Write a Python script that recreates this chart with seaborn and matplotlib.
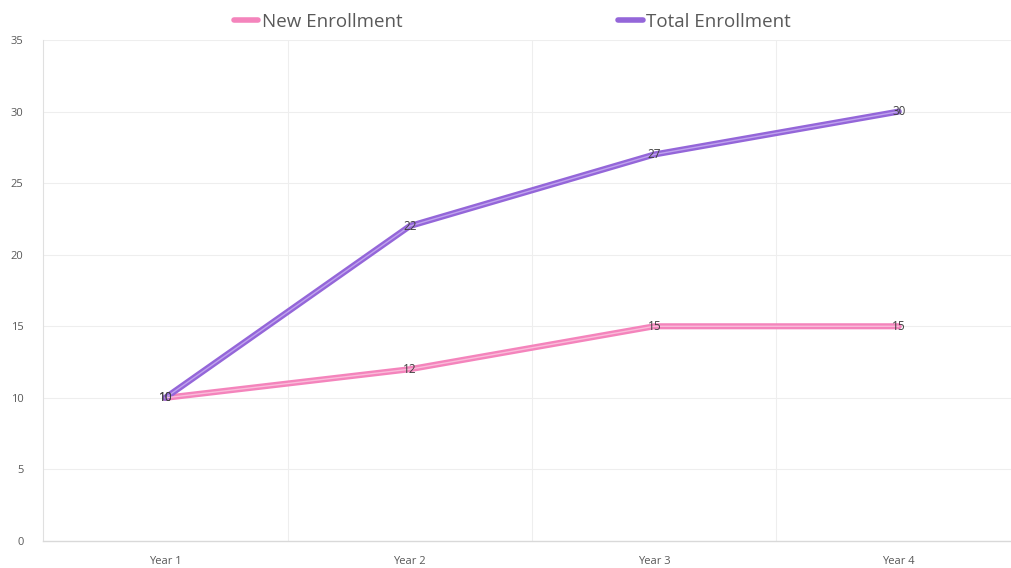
import matplotlib
matplotlib.use("Agg")
import matplotlib.pyplot as plt
import seaborn as sns
import pandas as pd
from matplotlib.lines import Line2D

years = ["Year 1", "Year 2", "Year 3", "Year 4"]
new_enrollment = [10, 12, 15, 15]
total_enrollment = [10, 22, 27, 30]
series_names = ["New Enrollment", "Total Enrollment"]
colors = {"New Enrollment": "#F484BC", "Total Enrollment": "#9466D9"}
inner = {"New Enrollment": "#FABCDA", "Total Enrollment": "#C0A3EE"}

df = pd.DataFrame({
    "Year": years * 2,
    "Value": new_enrollment + total_enrollment,
    "Series": [series_names[0]] * 4 + [series_names[1]] * 4,
})
df["x"] = df["Year"].map({y: i for i, y in enumerate(years)})

sns.set_theme(style="white")
plt.rcParams["font.family"] = ["Open Sans", "DejaVu Sans"]

fig = plt.figure(figsize=(10.11, 5.68), dpi=100)
ax = fig.add_axes([43 / 1011, 1 - 541 / 568, 1 - 43 / 1011, (541 - 40) / 568])

sns.lineplot(data=df, x="x", y="Value", hue="Series", palette=colors,
             linewidth=4.4, ax=ax, legend=False, zorder=3)
sns.lineplot(data=df, x="x", y="Value", hue="Series", palette=inner,
             linewidth=1.0, ax=ax, legend=False, zorder=4)

for vals in (new_enrollment, total_enrollment):
    for i, v in enumerate(vals):
        ax.text(i, v, str(v), ha="center", va="center", fontsize=8.5,
                color="#404040", zorder=5)

ax.set_xlim(-0.5, (1011 - 43) / 244.5 - 0.5)
ax.set_ylim(0, 35)
ax.set_yticks(range(0, 36, 5))
ax.set_xticks(range(len(years)))
ax.set_xticklabels(years)
ax.set_xlabel("")
ax.set_ylabel("")

ax.grid(False)
for y in range(5, 36, 5):
    ax.axhline(y, color="#EEEEEE", linewidth=0.8, zorder=0)
for xb in [0.5, 1.5, 2.5]:
    ax.axvline(xb, color="#EEEEEE", linewidth=0.8, zorder=0)

for s in ["top", "right"]:
    ax.spines[s].set_visible(False)
ax.spines["left"].set_color("#E0E0E0")
ax.spines["bottom"].set_color("#D9D9D9")
ax.spines["left"].set_linewidth(0.8)
ax.spines["bottom"].set_linewidth(1.0)

ax.tick_params(axis="y", length=0, labelsize=8, labelcolor="#595959", pad=14)
ax.tick_params(axis="x", length=0, labelsize=8, labelcolor="#595959", pad=11)

handles = [Line2D([0], [0], color=colors[n], linewidth=4) for n in series_names]
fig.legend(handles, series_names, loc="center", ncol=2,
           bbox_to_anchor=(0.507, 1 - 22 / 568), frameon=False, fontsize=13.5,
           handlelength=1.3, handletextpad=0.2, columnspacing=11.5,
           labelcolor="#595959", borderpad=0)

fig.savefig("out.png", dpi=100, facecolor="white")
